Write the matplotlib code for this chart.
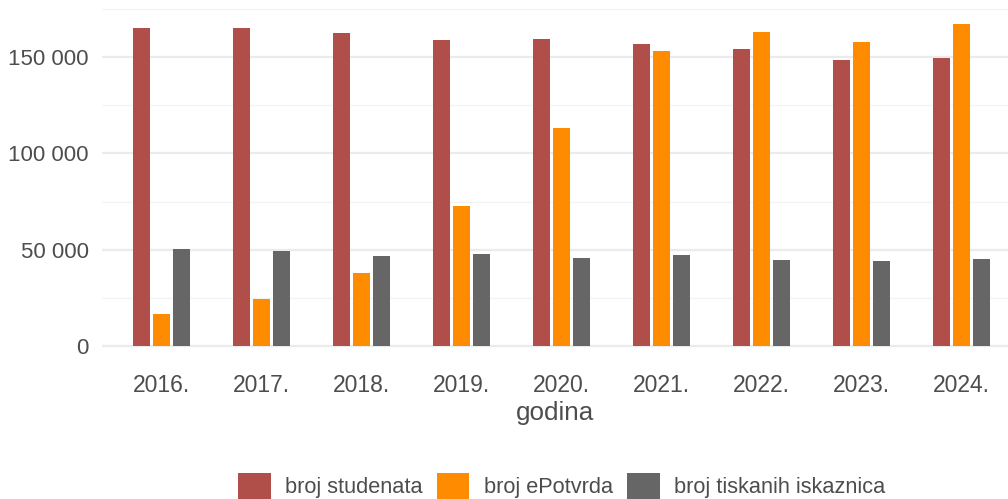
import matplotlib.pyplot as plt
import matplotlib.ticker as mticker
import numpy as np

plt.rcParams['font.family'] = ['Liberation Sans', 'DejaVu Sans']

years = ['2016.', '2017.', '2018.', '2019.', '2020.', '2021.', '2022.', '2023.', '2024.']
studenti = [165300, 165300, 162700, 159050, 159570, 156970, 154370, 148650, 149690]
epotvrde = [16490, 24300, 37820, 72680, 113270, 153330, 163210, 158010, 167380]
iskaznice = [50300, 49270, 46670, 47710, 45630, 47190, 44590, 44070, 45110]

labels = ['broj studenata', 'broj ePotvrda', 'broj tiskanih iskaznica']
colors = ['#B04E4A', '#FF8C00', '#666666']
txt = '#4D4D4D'

fig = plt.figure(figsize=(10.08, 4.99), dpi=100)
ax = fig.add_axes([102 / 1008, (499 - 361.8) / 499, 906 / 1008, (361.8 - 7.8) / 499])

x = np.arange(len(years))
bw = 0.17
bars = []
for off, vals, c, lab in zip([-0.2, 0, 0.2], [studenti, epotvrde, iskaznice], colors, labels):
    bars.append(ax.bar(x + off, vals, width=bw, color=c, label=lab, zorder=2))

ax.set_xlim(-0.595, 8.465)
ax.set_ylim(-8400, 175800)
ax.set_yticks([0, 50000, 100000, 150000])
ax.set_yticks([25000, 75000, 125000, 175000], minor=True)
ax.yaxis.set_major_formatter(mticker.FuncFormatter(lambda v, p: f'{int(v):,}'.replace(',', ' ')))
ax.grid(axis='y', which='major', color='#EBEBEB', linewidth=1.6, zorder=0)
ax.grid(axis='y', which='minor', color='#F2F2F2', linewidth=0.9, zorder=0)
ax.set_xticks(x)
ax.set_xticklabels(years)
for s in ax.spines.values():
    s.set_visible(False)
ax.tick_params(axis='y', which='both', length=0, pad=9.4, labelsize=16, labelcolor=txt)
ax.tick_params(axis='x', length=0, pad=8.6, labelsize=16.5, labelcolor=txt)
ax.set_xlabel('godina', fontsize=18.7, color=txt, labelpad=3.2)

fig.legend(handles=bars, labels=labels, loc='lower center', bbox_to_anchor=(0.557, 0.0),
           ncol=3, frameon=False, fontsize=15.7, handlelength=1.51, handleheight=1.46,
           handletextpad=0.65, columnspacing=0.65, borderpad=0, borderaxespad=0,
           labelcolor=txt)

fig.savefig('out.png', dpi=100)
